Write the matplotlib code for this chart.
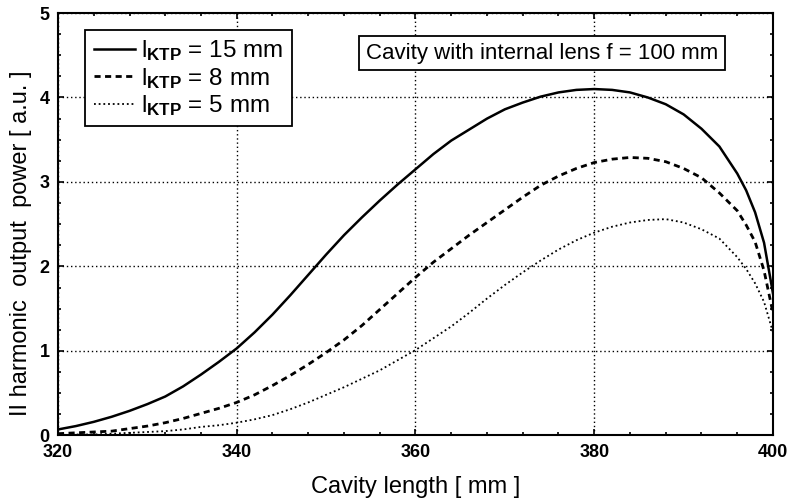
"""
II harmonic output power vs cavity length for three KTP crystal lengths
"""
import matplotlib
matplotlib.use("Agg")
import matplotlib.pyplot as plt
from matplotlib.ticker import MultipleLocator

plt.rcParams['font.family'] = ['Liberation Sans', 'DejaVu Sans']
plt.rcParams['mathtext.fontset'] = 'custom'
plt.rcParams['mathtext.rm'] = 'Liberation Sans'
plt.rcParams['mathtext.it'] = 'Liberation Sans'
plt.rcParams['mathtext.bf'] = 'Liberation Sans:bold'

# values
x_15 = [320, 322, 324, 326, 328, 330, 332, 334, 336, 338, 340, 342, 344, 346,
        348, 350, 352, 354, 356, 358, 360, 362, 364, 366, 368, 370, 372, 374,
        376, 378, 380, 382, 384, 386, 388, 390, 392, 394, 396, 397, 398, 399, 400]
p_15 = [0.07, 0.11, 0.16, 0.22, 0.29, 0.37, 0.46, 0.58, 0.72, 0.87, 1.03, 1.22,
        1.43, 1.66, 1.90, 2.14, 2.37, 2.58, 2.78, 2.97, 3.15, 3.33, 3.49, 3.62,
        3.75, 3.86, 3.94, 4.01, 4.06, 4.09, 4.10, 4.09, 4.06, 4.00, 3.92, 3.80,
        3.63, 3.42, 3.10, 2.90, 2.64, 2.28, 1.68]

x_8 = x_15
p_8 = [0.02, 0.03, 0.04, 0.05, 0.08, 0.11, 0.15, 0.20, 0.26, 0.32, 0.39, 0.48,
       0.59, 0.71, 0.84, 0.98, 1.13, 1.30, 1.49, 1.68, 1.87, 2.05, 2.21, 2.37,
       2.52, 2.67, 2.82, 2.96, 3.07, 3.16, 3.23, 3.27, 3.29, 3.28, 3.24, 3.16,
       3.05, 2.87, 2.66, 2.49, 2.29, 1.95, 1.45]

x_5 = x_15
p_5 = [0.00, 0.01, 0.01, 0.02, 0.03, 0.04, 0.05, 0.07, 0.10, 0.12, 0.15, 0.19,
       0.24, 0.31, 0.39, 0.48, 0.57, 0.67, 0.77, 0.89, 1.01, 1.15, 1.29, 1.45,
       1.62, 1.78, 1.93, 2.07, 2.20, 2.31, 2.40, 2.47, 2.52, 2.55, 2.56, 2.52,
       2.44, 2.33, 2.11, 1.97, 1.80, 1.58, 1.22]

labels = [r'$\mathrm{l}_{\mathbf{KTP}}$ = 15 mm',
          r'$\mathrm{l}_{\mathbf{KTP}}$ = 8 mm',
          r'$\mathrm{l}_{\mathbf{KTP}}$ = 5 mm']

fig = plt.figure(figsize=(7.87, 5.01), dpi=100)
ax = fig.add_axes([0.0737, 0.131, 0.9085, 0.843])

ax.plot(x_15, p_15, color='black', lw=1.8, ls='-', label=labels[0])
ax.plot(x_8, p_8, color='black', lw=2.0, ls=(0, (2.2, 1.6)), label=labels[1])
ax.plot(x_5, p_5, color='black', lw=1.3, ls=(0, (1, 1.6)), label=labels[2])

ax.set_xlim(320, 400)
ax.set_ylim(0, 5)
ax.xaxis.set_major_locator(MultipleLocator(20))
ax.xaxis.set_minor_locator(MultipleLocator(4))
ax.yaxis.set_major_locator(MultipleLocator(1))
ax.yaxis.set_minor_locator(MultipleLocator(0.25))
ax.tick_params(which='both', direction='in', top=True, right=True,
               labelsize=13, width=1.2, pad=6)
ax.tick_params(which='major', length=4)
ax.tick_params(which='minor', length=2.5)
for lab in ax.get_xticklabels() + ax.get_yticklabels():
    lab.set_fontweight('bold')
for sp in ax.spines.values():
    sp.set_linewidth(1.5)

ax.grid(True, which='major', color='black', ls=(0, (1, 2)), lw=1.0)

ax.set_xlabel('Cavity length [ mm ]', fontsize=17, labelpad=11)
ax.set_ylabel('II harmonic  output  power [ a.u. ]', fontsize=17)
ax.yaxis.set_label_coords(-0.036, 0.455)

leg = ax.legend(loc='upper left', bbox_to_anchor=(0.038, 0.96), fontsize=17.5,
                handlelength=1.7, handletextpad=0.25, labelspacing=0.1,
                borderpad=0.35, borderaxespad=0, fancybox=False, framealpha=1,
                edgecolor='black')
leg.get_frame().set_linewidth(1.3)

ax.text(0.677, 0.905, 'Cavity with internal lens f = 100 mm', fontsize=16,
        transform=ax.transAxes, ha='center', va='center',
        bbox=dict(boxstyle='square,pad=0.3', fc='white', ec='black', lw=1.3))

fig.savefig('out.png', dpi=100)
